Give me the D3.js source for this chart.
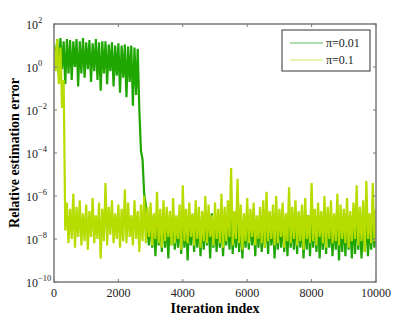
<html>
<script src='https://d3js.org/d3.v7.min.js'></script>

<style>
    body {
        margin: 0;
        background: white;
    }

    text {
        font-family: "Liberation Serif", "Times New Roman", serif;
    }
</style>

<body>
    <div id="chart"></div>

    <script>
        // iteration grid spacing (one sample every 50 iterations)
        var iterStep = 50;

        // log10 of relative error, pi = 0.01
        var greenLog = [
            1.0, 0.2, 1.3, -0.4, 1.35, -0.1, 1.2, -0.8, 1.3, -0.3,
            1.25, -0.6, 1.2, 0.0, 1.3, -0.9, 1.2, -0.3, 1.35, -0.5,
            1.15, -0.1, 1.25, -0.7, 1.1, -0.2, 1.3, -0.6, 1.15, -1.1,
            1.2, -0.3, 1.2, -0.8, 1.05, -0.2, 1.15, -0.9, 1.0, -0.4,
            1.1, -1.2, 1.0, -0.5, 1.05, -1.4, 0.95, -0.7, 1.0, -1.8,
            0.9, -1.3, 0.85, -2.0, -3.9, -4.3, -5.9, -6.4, -7.6, -8.3,
            -7.0, -8.4, -6.9, -8.8, -7.1, -8.3, -7.2, -8.6, -6.8, -8.4,
            -7.0, -8.9, -7.1, -8.3, -6.9, -8.5, -7.2, -8.4, -7.0, -8.7,
            -6.8, -8.4, -7.1, -9.0, -7.0, -8.3, -6.9, -8.6, -7.2, -8.4,
            -7.0, -8.8, -6.9, -8.5, -7.1, -8.3, -7.0, -8.9, -6.8, -8.4,
            -7.2, -8.6, -7.0, -8.4, -6.9, -8.8, -7.1, -8.3, -7.0, -8.5,
            -6.9, -8.7, -7.1, -8.4, -7.0, -8.6, -6.8, -8.9, -7.2, -8.4,
            -7.0, -8.5, -6.9, -8.3, -7.1, -8.8, -7.0, -8.4, -6.9, -8.6,
            -7.2, -8.4, -7.0, -8.7, -6.8, -8.3, -7.1, -8.9, -7.0, -8.5,
            -6.9, -8.4, -7.1, -8.6, -7.0, -8.8, -6.9, -8.4, -7.2, -8.5,
            -7.0, -8.7, -6.8, -8.4, -7.1, -8.9, -7.0, -8.5, -6.9, -8.8,
            -7.1, -8.4, -7.0, -8.6, -6.9, -8.9, -7.2, -8.5, -7.0, -8.7,
            -6.8, -8.4, -7.1, -8.8, -7.0, -8.5, -6.9, -9.0, -7.1, -8.6,
            -7.0, -8.8, -6.9, -8.5, -7.2, -8.9, -7.0, -8.7, -6.8, -8.5,
            -7.1, -8.9, -7.0, -8.6, -6.9, -8.8, -7.2, -8.5, -7.0, -8.4,
            -7.1
        ];

        // log10 of relative error, pi = 0.1
        var yellowLog = [
            1.0, -0.2, 1.3, -0.8, 0.9, -1.9, -0.6, -7.6, -6.3, -8.2,
            -6.6, -8.0, -5.9, -8.4, -6.5, -7.9, -6.2, -8.3, -6.8, -8.1,
            -6.4, -8.5, -6.7, -7.9, -6.1, -8.2, -6.9, -8.0, -6.3, -8.9,
            -6.6, -8.1, -5.4, -8.3, -6.5, -7.8, -6.2, -8.2, -6.8, -8.0,
            -6.4, -8.4, -6.6, -8.1, -5.7, -8.2, -6.3, -7.9, -6.9, -8.3,
            -6.2, -8.0, -6.7, -8.6, -6.4, -8.1, -6.0, -8.2, -6.5, -7.9,
            -6.3, -8.3, -6.8, -8.0, -5.8, -8.2, -6.6, -8.4, -6.2, -8.1,
            -6.5, -7.9, -6.7, -8.3, -6.1, -8.2, -6.9, -8.0, -6.4, -8.5,
            -5.5, -8.1, -6.6, -8.2, -6.3, -7.9, -6.8, -8.3, -6.2, -8.0,
            -6.5, -8.4, -6.7, -8.1, -6.0, -8.2, -6.4, -7.9, -6.9, -8.3,
            -6.3, -8.0, -6.6, -8.2, -5.9, -8.4, -6.5, -8.1, -6.2, -7.9,
            -4.7, -8.3, -6.7, -8.0, -5.2, -8.2, -6.4, -8.5, -6.8, -8.1,
            -6.1, -8.2, -6.6, -7.9, -6.3, -8.3, -6.9, -8.0, -6.5, -8.2,
            -6.2, -8.4, -5.8, -8.1, -6.7, -8.0, -6.4, -8.3, -6.0, -8.2,
            -6.6, -7.9, -6.3, -8.4, -6.8, -8.1, -5.6, -8.2, -6.5, -8.0,
            -6.2, -8.3, -6.7, -8.1, -6.4, -8.5, -6.1, -8.0, -6.9, -8.2,
            -5.4, -8.1, -6.6, -8.3, -6.3, -7.9, -6.7, -8.2, -6.0, -8.4,
            -6.5, -8.0, -6.2, -8.2, -6.8, -8.1, -5.9, -8.3, -6.4, -8.0,
            -6.6, -8.2, -6.1, -8.4, -6.7, -8.1, -6.3, -8.0, -5.5, -8.3,
            -6.5, -8.1, -6.2, -8.6, -5.3, -8.0, -6.8, -8.2, -5.4, -8.1,
            -6.6
        ];

        var seriesNames = ["\u03c0=0.01", "\u03c0=0.1"];
        var seriesColors = ["#1fa600", "#b6dc00"];
        var legendColors = ["#5cc35c", "#d4ec60"];

        var xTicks = [0, 2000, 4000, 6000, 8000, 10000];
        var yTickExps = [2, 0, -2, -4, -6, -8, -10];

        var svgW = 415, svgH = 319;
        var pLeft = 54, pRight = 376, pTop = 24, pBottom = 282;

        var svg = d3.select("#chart").append("svg")
            .attr("width", svgW)
            .attr("height", svgH);

        var xs = d3.scaleLinear().domain([0, 10000]).range([pLeft, pRight]);
        var ys = d3.scaleLog().domain([1e-10, 1e2]).range([pBottom, pTop]);

        svg.append("clipPath").attr("id", "plotclip")
            .append("rect")
            .attr("x", pLeft).attr("y", pTop)
            .attr("width", pRight - pLeft).attr("height", pBottom - pTop);

        function toPoints(logs) {
            return logs.map(function (e, i) {
                return { it: i * iterStep, v: Math.pow(10, e) };
            });
        }

        var line = d3.line()
            .x(function (d) { return xs(d.it); })
            .y(function (d) { return ys(d.v); });

        var plot = svg.append("g").attr("clip-path", "url(#plotclip)");
        [greenLog, yellowLog].forEach(function (logs, k) {
            plot.append("path")
                .datum(toPoints(logs))
                .attr("d", line)
                .attr("fill", "none")
                .attr("stroke", seriesColors[k])
                .attr("stroke-width", 2.2)
                .attr("stroke-linejoin", "bevel");
        });

        // axes box + ticks (inside, mirrored like matlab)
        var axisColor = "#7a7a7a";
        var tl = 3;
        var axG = svg.append("g");
        xTicks.forEach(function (t) {
            axG.append("line")
                .attr("x1", xs(t)).attr("x2", xs(t))
                .attr("y1", pBottom).attr("y2", pBottom - tl)
                .attr("stroke", axisColor);
            axG.append("line")
                .attr("x1", xs(t)).attr("x2", xs(t))
                .attr("y1", pTop).attr("y2", pTop + tl)
                .attr("stroke", axisColor);
            axG.append("text")
                .attr("x", xs(t))
                .attr("y", 297)
                .attr("text-anchor", "middle")
                .attr("font-size", 12)
                .attr("fill", "#222")
                .text(t);
        });
        yTickExps.forEach(function (e) {
            var y = ys(Math.pow(10, e));
            axG.append("line")
                .attr("x1", pLeft).attr("x2", pLeft + tl)
                .attr("y1", y).attr("y2", y)
                .attr("stroke", axisColor);
            axG.append("line")
                .attr("x1", pRight).attr("x2", pRight - tl)
                .attr("y1", y).attr("y2", y)
                .attr("stroke", axisColor);
            var lbl = axG.append("text")
                .attr("x", 26)
                .attr("y", y + 5)
                .attr("font-size", 12)
                .attr("fill", "#222");
            lbl.append("tspan").text("10");
            lbl.append("tspan")
                .attr("dy", -6)
                .attr("font-size", 8.5)
                .text(e < 0 ? "\u2212" + (-e) : e);
        });
        axG.append("rect")
            .attr("x", pLeft).attr("y", pTop)
            .attr("width", pRight - pLeft).attr("height", pBottom - pTop)
            .attr("fill", "none")
            .attr("stroke", axisColor)
            .attr("stroke-width", 1.5);

        // axis labels
        svg.append("text")
            .attr("x", 215)
            .attr("y", 313)
            .attr("text-anchor", "middle")
            .attr("font-size", 14)
            .attr("font-weight", "bold")
            .text("Iteration index");
        svg.append("text")
            .attr("transform", "translate(19," + ((pTop + pBottom) / 2) + ") rotate(-90)")
            .attr("text-anchor", "middle")
            .attr("font-size", 14)
            .attr("font-weight", "bold")
            .text("Relative estimation error");

        // legend
        var lg = svg.append("g");
        lg.append("rect")
            .attr("x", 282).attr("y", 30)
            .attr("width", 88).attr("height", 41)
            .attr("fill", "white")
            .attr("stroke", "#333")
            .attr("stroke-width", 1);
        seriesNames.forEach(function (name, k) {
            var y = 43 + k * 17;
            lg.append("line")
                .attr("x1", 290).attr("x2", 323)
                .attr("y1", y).attr("y2", y)
                .attr("stroke", legendColors[k])
                .attr("stroke-width", 1.2);
            lg.append("text")
                .attr("x", 326)
                .attr("y", y + 4)
                .attr("font-size", 12)
                .attr("fill", "#222")
                .text(name);
        });
    </script>
</body>

</html>
